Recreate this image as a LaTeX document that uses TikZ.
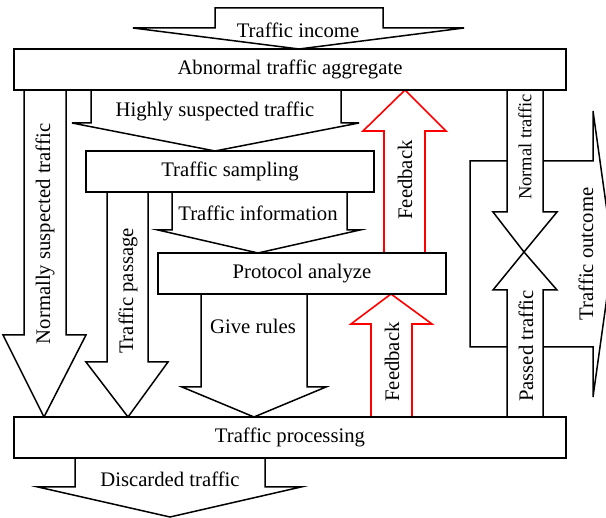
\documentclass[tikz,border=0pt]{standalone}
\usepackage{fontspec}
\setmainfont{Liberation Serif}

% Block arrow as a closed outline:
% [style]{shaft left}{shaft right}{tail y}{head base y}{wing left}{wing right}{tip x}{tip y}
\newcommand\blockarrow[9][blk]{%
  \filldraw[#1] (#2,#4) -- (#2,#5) -- (#6,#5) -- (#8,#9) -- (#7,#5) -- (#3,#5) -- (#3,#4) -- cycle;}

\tikzset{
  blk/.style={draw=black, fill=white, line width=1.5pt, line join=miter},
  fb/.style={draw=red, fill=white, line width=1.6pt, line join=miter},
  boxnode/.style={draw=black, fill=white, line width=1.5pt, inner sep=0pt,
                  minimum height=41pt, font=\fontsize{20.7}{23}\selectfont},
  lbl/.style={inner sep=0pt, font=\fontsize{20.7}{23}\selectfont},
  vlbl/.style={lbl, rotate=90},
}

\begin{document}
\begin{tikzpicture}[x=1pt, y=-1pt]
  \useasboundingbox (0,0) rectangle (606,518);
  \clip (0,0) rectangle (606,518);
  \fill[white] (0,0) rectangle (606,518);

  % incoming traffic
  \blockarrow{215}{383}{8}{28}{133}{464}{299}{49}
  % left branches
  \blockarrow{24}{66}{90}{335}{3}{86}{44}{417}
  \blockarrow{91}{341}{90}{123}{72}{359}{215}{151}
  \blockarrow{107}{148}{192}{362}{86}{168}{128}{417}
  \blockarrow{172}{347}{192}{230}{158}{360}{258}{253}
  \blockarrow{201}{307}{294}{387}{182}{326}{254}{417}
  % feedback loops
  \blockarrow[fb]{384}{425}{253}{131}{363}{446}{405}{90}
  \blockarrow[fb]{371}{412}{417}{324}{351}{432}{391}{294}
  % outgoing traffic to the right
  \filldraw[blk] (470,161) -- (593,161) -- (593,111) -- (613,254) -- (593,397)
                 -- (593,347) -- (470,347) -- cycle;
  \blockarrow{507}{543}{90}{212}{493}{557}{524}{252}
  \blockarrow{507}{543}{417}{290}{493}{557}{524}{252}
  % discarded traffic
  \blockarrow{75}{265}{458}{487}{38}{301}{170}{517}

  % processing stages
  \node[boxnode, minimum width=552pt] (agg)   at (290,69.5)  {Abnormal traffic aggregate};
  \node[boxnode, minimum width=288pt] (samp)  at (230,171.5) {Traffic sampling};
  \node[boxnode, minimum width=288pt] (proto) at (302,273.5) {Protocol analyze};
  \node[boxnode, minimum width=552pt] (proc)  at (290,437.5) {Traffic processing};

  % arrow labels
  \node[lbl] (lin)   at (298,30)  {Traffic income};
  \node[lbl] (lhigh) at (215,111) {Highly suspected traffic};
  \node[lbl] (linfo) at (258,213) {Traffic information};
  \node[lbl] (lrule) at (253,326) {Give rules};
  \node[lbl] (ldisc) at (170,479) {Discarded traffic};
  \node[vlbl] (lnorm) at (45,234)  {Normally suspected traffic};
  \node[vlbl] (lpass) at (128,291) {Traffic passage};
  \node[vlbl] (lfb1)  at (405,180) {Feedback};
  \node[vlbl] (lfb2)  at (392,362) {Feedback};
  \node[vlbl, font=\fontsize{18.5}{21}\selectfont] (lnt) at (525,147) {Normal traffic};
  \node[vlbl] (lpt)   at (526,346) {Passed traffic};
  \node[vlbl] (lout)  at (586,254) {Traffic outcome};
\end{tikzpicture}
\end{document}
